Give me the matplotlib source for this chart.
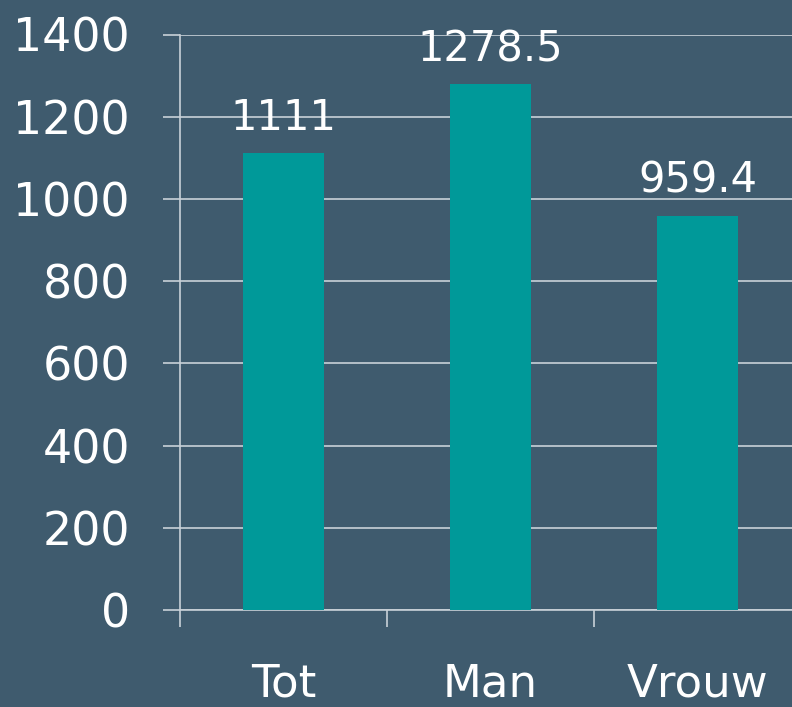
import matplotlib.pyplot as plt
import numpy as np

categories = ['Tot', 'Man', 'Vrouw']
values = [1111, 1278.5, 959.4]
value_labels = ['1111', '1278.5', '959.4']
yticks = [0, 200, 400, 600, 800, 1000, 1200, 1400]

bg = '#3f5b6e'
bar_color = '#009999'
line_color = '#c9d1d8'

plt.rcParams['font.family'] = 'DejaVu Sans'

fig = plt.figure(figsize=(7.92, 7.07), dpi=100, facecolor=bg)
ax = fig.add_axes([180 / 792, 1 - 610 / 707, 621 / 792, (610 - 34.5) / 707])
ax.set_facecolor(bg)

x = np.arange(len(categories))
ax.bar(x, values, width=0.39, color=bar_color, zorder=3)
for xi, v, lab in zip(x, values, value_labels):
    ax.annotate(lab, (xi, v), xytext=(0, 10), textcoords='offset points',
                ha='center', va='bottom', color='white', fontsize=30, zorder=4)

ax.set_xlim(-0.5, 2.5)
ax.set_ylim(0, 1400)
ax.set_yticks(yticks)
ax.set_yticklabels([str(t) for t in yticks])
ax.yaxis.grid(True, color=line_color, linewidth=1.2, zorder=1)

ax.set_xticks(x)
ax.set_xticklabels(categories)
ax.set_xticks([-0.5, 0.5, 1.5, 2.5], minor=True)
ax.tick_params(axis='x', which='major', length=0, pad=38, labelsize=32.5, labelcolor='white')
ax.tick_params(axis='x', which='minor', length=12, width=1.2, color=line_color, direction='out')
ax.tick_params(axis='y', length=12, width=1.2, color=line_color, pad=24, labelsize=33, labelcolor='white')

for side in ['top', 'right']:
    ax.spines[side].set_visible(False)
for side in ['left', 'bottom']:
    ax.spines[side].set_color(line_color)
    ax.spines[side].set_linewidth(1.2)

plt.savefig('out.png', dpi=100, facecolor=bg)
